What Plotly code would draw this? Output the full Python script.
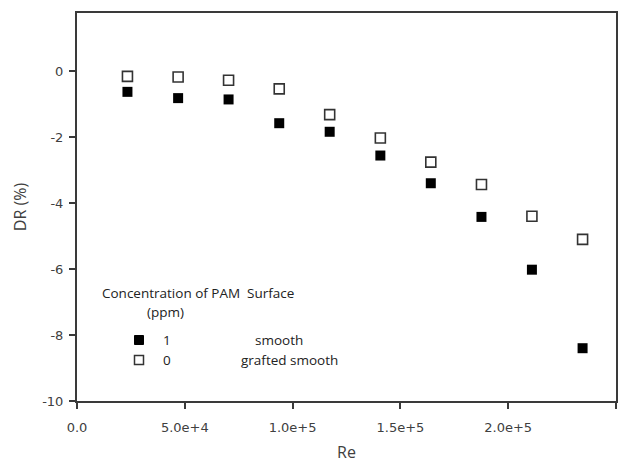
import plotly.graph_objects as go

# Reynolds numbers of the measurement points
re_values = [23400, 46900, 70300, 93800, 117200, 140700, 164100, 187600, 211000, 234500]

# Drag reduction (%) for each surface
dr_smooth_1ppm = [-0.63, -0.82, -0.86, -1.58, -1.84, -2.56, -3.40, -4.42, -6.02, -8.40]
dr_grafted_0ppm = [-0.16, -0.18, -0.28, -0.54, -1.32, -2.03, -2.76, -3.44, -4.40, -5.10]

x_ticks = [0, 50000, 100000, 150000, 200000, 250000]
x_tick_labels = ["0.0", "5.0e+4", "1.0e+5", "1.5e+5", "2.0e+5", "2.5e+5"]
y_ticks = [0, -2, -4, -6, -8, -10]
y_tick_labels = ["0", "-2", "-4", "-6", "-8", "-10"]

axis_color = "#3a3a3a"
text_color = "#404040"
tick_font = dict(family="DejaVu Sans, Verdana, sans-serif", size=13, color=text_color)
label_font = dict(family="Open Sans", size=16, color=text_color)

fig = go.Figure()
fig.add_trace(go.Scatter(
    x=re_values, y=dr_smooth_1ppm, mode="markers",
    marker=dict(symbol="square", size=10, color="black", line=dict(width=0)),
    name="smooth", showlegend=False,
))
fig.add_trace(go.Scatter(
    x=re_values, y=dr_grafted_0ppm, mode="markers",
    marker=dict(symbol="square-open", size=10, color="#333333", line=dict(width=1.6)),
    name="grafted smooth", showlegend=False,
))

fig.update_xaxes(
    range=[0, 250000], tickvals=x_ticks, ticktext=x_tick_labels,
    showline=True, linecolor=axis_color, linewidth=2, mirror=True,
    ticks="outside", ticklen=6, tickwidth=2, tickcolor=axis_color,
    ticklabelstandoff=7, automargin=False,
    showgrid=False, zeroline=False, tickfont=tick_font,
    title=dict(text="Re", font=label_font, standoff=20),
)
fig.update_yaxes(
    range=[-10, 1.76], tickvals=y_ticks, ticktext=y_tick_labels,
    showline=True, linecolor=axis_color, linewidth=2, mirror=True,
    ticks="outside", ticklen=6, tickwidth=2, tickcolor=axis_color,
    ticklabelstandoff=3, automargin=False,
    showgrid=False, zeroline=False, tickfont=tick_font,
    title=dict(text="DR (%)", font=label_font, standoff=12),
)

# Legend block drawn in paper coordinates
W, H = 638, 463
ml, mr, mt, mb = 77, 22, 13, 62
pw, ph = W - ml - mr, H - mt - mb


def px(xp):
    return (xp - ml) / pw


def py(yp):
    return 1 - (yp - mt) / ph


legend_font = dict(family="Open Sans", size=13.5, color="#222222")
notes = [
    ("Concentration of PAM", 171, 293),
    ("Surface", 270, 293),
    ("(ppm)", 165, 312),
    ("1", 167, 340),
    ("smooth", 279, 340),
    ("0", 167, 360),
    ("grafted smooth", 289, 360),
]
for text, xp, yp in notes:
    fig.add_annotation(
        x=px(xp), y=py(yp), xref="paper", yref="paper", text=text,
        showarrow=False, xanchor="center", yanchor="middle", font=legend_font,
    )

# legend key squares
fig.add_shape(type="rect", xref="paper", yref="paper",
              x0=px(134.5), x1=px(143.5), y0=py(344.5), y1=py(335.5),
              fillcolor="black", line=dict(color="black", width=1))
fig.add_shape(type="rect", xref="paper", yref="paper",
              x0=px(134.5), x1=px(143.5), y0=py(364.5), y1=py(355.5),
              fillcolor="white", line=dict(color="#333333", width=1.5))

fig.update_layout(
    width=W, height=H,
    margin=dict(l=ml, r=mr, t=mt, b=mb),
    paper_bgcolor="white", plot_bgcolor="white",
    showlegend=False,
)

fig.write_html("out.html")
